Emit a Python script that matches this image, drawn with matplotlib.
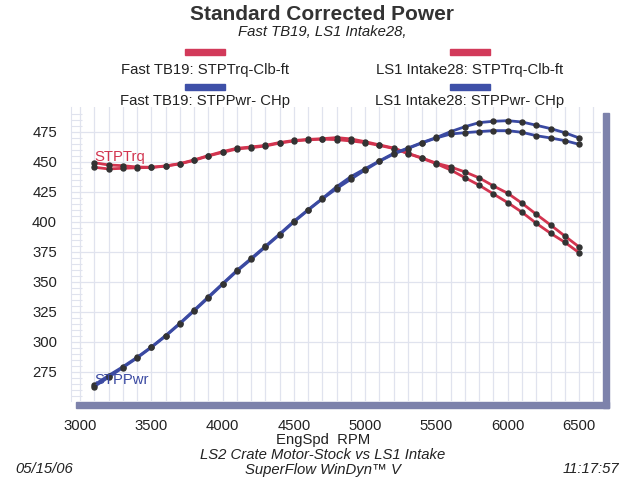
import matplotlib
matplotlib.use("Agg")
import matplotlib.pyplot as plt
from matplotlib.patches import Rectangle
import numpy as np

plt.rcParams['font.family'] = ['Liberation Sans', 'DejaVu Sans']

rpm = list(range(3100, 6600, 100))

trq_fast = [449.4, 447.5, 446.9, 445.8, 445.6, 446.7, 448.6, 451.7, 455.3, 458.6,
            461.4, 462.5, 463.8, 466.2, 467.9, 468.8, 469.4, 470.3, 469.2, 466.9,
            464.2, 461.6, 457.2, 453.3, 448.9, 445.8, 441.7, 436.7, 430.0, 423.9,
            415.6, 406.4, 397.5, 388.3, 379.2]
trq_ls1 = [445.6, 444.2, 444.7, 445.2, 445.4, 446.5, 448.4, 451.3, 455.0, 458.0,
           460.8, 461.9, 463.3, 465.7, 467.5, 468.4, 469.0, 468.6, 467.5, 466.1,
           463.8, 461.2, 457.0, 453.0, 448.5, 443.3, 436.9, 430.6, 423.3, 416.1,
           408.1, 398.9, 390.6, 383.1, 374.4]
pwr_fast = [264.2, 272.0, 279.3, 287.2, 295.8, 305.3, 315.6, 326.5, 337.6, 348.6,
            359.6, 369.6, 379.8, 390.0, 400.6, 410.3, 419.6, 429.4, 437.8, 444.4,
            450.9, 457.2, 461.6, 466.2, 470.4, 475.3, 479.4, 482.8, 483.9, 484.4,
            483.3, 480.6, 477.8, 474.4, 470.0]
pwr_ls1 = [262.8, 270.5, 278.6, 286.6, 295.4, 304.8, 315.1, 325.8, 336.8, 348.0,
           358.9, 368.8, 379.1, 389.4, 400.0, 409.8, 419.2, 427.8, 435.6, 443.3,
           450.5, 456.6, 461.2, 465.9, 470.0, 473.3, 474.4, 475.3, 476.1, 476.1,
           474.7, 471.9, 470.0, 467.8, 464.7]

xticks = [3000, 3500, 4000, 4500, 5000, 5500, 6000, 6500]
yticks = [275, 300, 325, 350, 375, 400, 425, 450, 475]

RED = '#d2344f'
BLUE = '#3b4aa2'
DOT = '#333333'
FRAME = '#7d82ab'
TXT = '#222222'
FS = 10.7

W, H = 640, 480
fig = plt.figure(figsize=(6.4, 4.8), dpi=100)
fig.patch.set_facecolor('white')

L, R, T, B = 71, 601, 107, 401
ax = fig.add_axes([L / W, 1 - B / H, (R - L) / W, (B - T) / H])
ax.set_xlim(2937, 6654)
ax.set_ylim(250.8, 495.8)

# grid
for x in range(3000, 6700, 100):
    ax.axvline(x, color='#e0e3ee', lw=0.9, zorder=0)
for y in yticks:
    ax.axhline(y, color='#e0e3ee', lw=0.9, zorder=0)

for s in ['top', 'right', 'bottom']:
    ax.spines[s].set_visible(False)
ax.spines['left'].set_color('#e0e3ee')

ax.set_xticks(xticks)
ax.set_yticks(yticks)
ax.set_yticks(np.arange(255, 495, 5), minor=True)
ax.tick_params(axis='x', length=0, pad=13, labelsize=FS, colors=TXT)
ax.tick_params(axis='y', which='major', length=0, pad=10, labelsize=FS, colors=TXT)
ax.tick_params(axis='y', which='minor', direction='in', length=8, color='#e0e3ee', width=0.8)

kw = dict(lw=2.0, marker='o', ms=3.6, mfc=DOT, mec=DOT, zorder=3)
ax.plot(rpm, trq_fast, color=RED, **kw)
ax.plot(rpm, trq_ls1, color=RED, **kw)
ax.plot(rpm, pwr_fast, color=BLUE, **kw)
ax.plot(rpm, pwr_ls1, color=BLUE, **kw)

ax.text(3100, 448.5, 'STPTrq', color=RED, fontsize=FS, ha='left', va='bottom', zorder=4)
ax.text(3100, 262.5, 'STPPwr', color=BLUE, fontsize=FS, ha='left', va='bottom', zorder=4)

# frame bars (shadow)
fig.patches.append(Rectangle((76 / W, 1 - 408 / H), (609 - 76) / W, 6 / H,
                             transform=fig.transFigure, color=FRAME, zorder=1))
fig.patches.append(Rectangle((603 / W, 1 - 408 / H), 6 / W, (408 - 113) / H,
                             transform=fig.transFigure, color=FRAME, zorder=1))

def ft(x, y, s, color=TXT, **k):
    fig.text(x / W, 1 - y / H, s, ha='center', va='center', color=color, **k)

ft(322, 14, 'Standard Corrected Power', fontsize=15, fontweight='bold', color='#333333')
ft(322, 32, 'Fast TB19, LS1 Intake28,', fontsize=FS, style='italic')

# legend
for cx, lab in [(205, 'Fast TB19'), (470, 'LS1 Intake28')]:
    fig.patches.append(Rectangle(((cx - 20) / W, 1 - 55 / H), 40 / W, 6 / H,
                                 transform=fig.transFigure, color='#d23a5a'))
    fig.patches.append(Rectangle(((cx - 20) / W, 1 - 90 / H), 40 / W, 6 / H,
                                 transform=fig.transFigure, color='#3e50a8'))
    ft(cx, 70, lab + ': STPTrq-Clb-ft', fontsize=FS)
    ft(cx, 101, lab + ': STPPwr- CHp', fontsize=FS)

ft(323, 440, 'EngSpd  RPM', fontsize=FS)
ft(323, 455, 'LS2 Crate Motor-Stock vs LS1 Intake', fontsize=FS, style='italic')
ft(323, 470, 'SuperFlow WinDyn™ V', fontsize=FS, style='italic')
ft(44, 469, '05/15/06', fontsize=FS, style='italic')
ft(591, 469, '11:17:57', fontsize=FS, style='italic')

fig.savefig('out.png', dpi=100)
